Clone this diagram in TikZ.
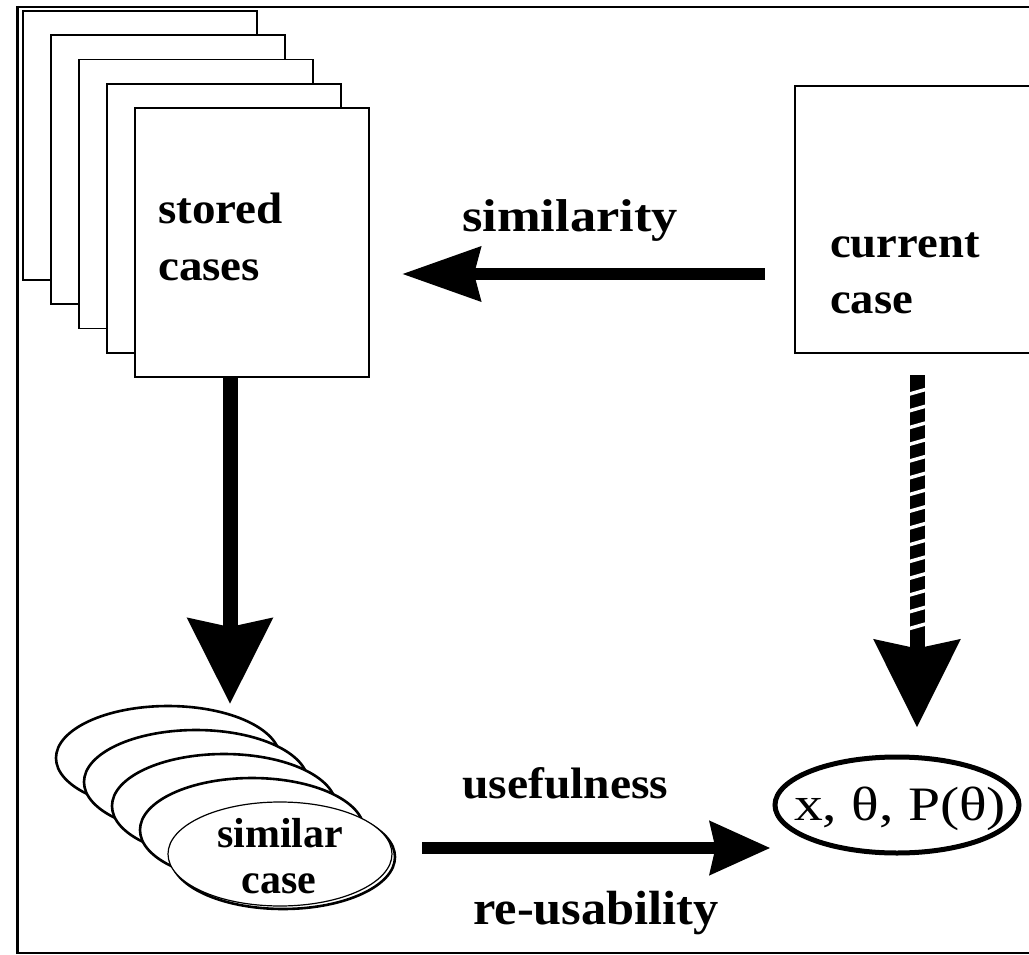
\documentclass[tikz,border=0pt]{standalone}
\usepackage{fontspec}
\setmainfont{Liberation Serif}
\usepackage{graphicx}
\usetikzlibrary{arrows.meta,calc,shapes.geometric}

\begin{document}
\begin{tikzpicture}[x=1pt,y=-1pt,
  card/.style={draw, line width=1.8pt, fill=white, minimum width=234pt,
    minimum height=269pt, inner sep=0pt, outer sep=0pt},
  disc/.style={ellipse, draw, line width=2.6pt, fill=white, minimum width=224pt,
    minimum height=104pt, inner sep=0pt, outer sep=0pt},
  lbl/.style={inner sep=0pt, anchor=base west, font=\bfseries\fontsize{44}{52}\selectfont},
  clbl/.style={inner sep=0pt, anchor=base, font=\bfseries\fontsize{42}{50}\selectfont},
  fat/.style={line width=12pt, -{Stealth[length=78pt,width=53pt,inset=6pt]}},
]
\useasboundingbox (0,0) rectangle (1029,955);

% outer frame, open on the right
\draw[line width=1.5pt] (1040,7) -- (17,7);
\draw[line width=2pt] (17,953) -- (1040,953);
\draw[line width=3pt] (17,6) -- (17,954);

% stack of stored cases
\foreach \i in {1,...,5}
  \node[card] (s\i) at ({252-(5-\i)*28}, {242.5-(5-\i)*24.25}) {};
\node[lbl] (stored) at (158,223) {\scalebox{1.07}[1]{stored}};
\node[lbl] (cases) at (158,280) {\scalebox{1.07}[1]{cases}};

% current case
\node[card, line width=1.5pt, anchor=north west, minimum width=260pt,
  minimum height=267pt] (cur) at (795,86) {};
\node[lbl] (current) at (830,257) {\scalebox{1.06}[1]{current}};
\node[lbl] (case) at (830,313) {\scalebox{1.06}[1]{case}};

% similarity
\node[lbl, font=\bfseries\fontsize{46}{54}\selectfont] (simlbl) at (462,231)
  {\scalebox{1.14}[1]{similarity}};
\draw[fat] ($(cur.west)+(-30,54.5)$) -- ($(s5.east)+(33,31.5)$);

% stack of similar cases
\node[disc] (e1) at (168,758) {};
\node[disc] (e2) at (196,782) {};
\node[disc] (e3) at (224,806) {};
\node[disc] (e4) at (252,830) {};
\node[disc] (e5b) at (283,857) {};
\node[disc, line width=1.2pt] (e5) at (280,854) {};
\node[clbl] (similar) at (280,847) {similar};
\node[clbl] (scase) at (279,893) {case};

% retrieval arrow
\draw[line width=15pt, -{Stealth[length=85pt,width=83pt,inset=8pt]}]
  ($(s5.south)+(-22,0)$) -- ($(e1.north)+(62,-2)$);

% estimate node
\node[ellipse, draw, line width=5pt, minimum width=244pt, minimum height=96pt,
  inner sep=0pt] (th) at (897,805) {};
\node[inner sep=0pt, anchor=base, font=\fontsize{48}{56}\selectfont] (thlbl)
  at (900,820) {\scalebox{1.2}[1]{x, θ, P(θ)}};

% dashed arrow from current case
\draw[line width=15pt, -{Stealth[length=87pt,width=84pt,inset=8pt]}]
  ($(cur.south)+(-8,22)$) -- ($(th.north)+(20,-27)$);
\foreach \k in {1,...,15}
  \draw[white, line width=3.5pt] (907, {375+\k*16.75+3}) -- (928, {375+\k*16.75-3});

% usefulness arrow
\node[lbl] (useful) at (462,798) {\scalebox{1.08}[1]{usefulness}};
\node[lbl, font=\bfseries\fontsize{48}{56}\selectfont] (reuse) at (473,924)
  {\scalebox{1.05}[1]{re-usability}};
\draw[line width=12pt, -{Stealth[length=60pt,width=52pt,inset=5pt]}]
  ($(e5.east)+(30,-6)$) -- ($(th.west)+(-2,43)$);
\end{tikzpicture}
\end{document}
